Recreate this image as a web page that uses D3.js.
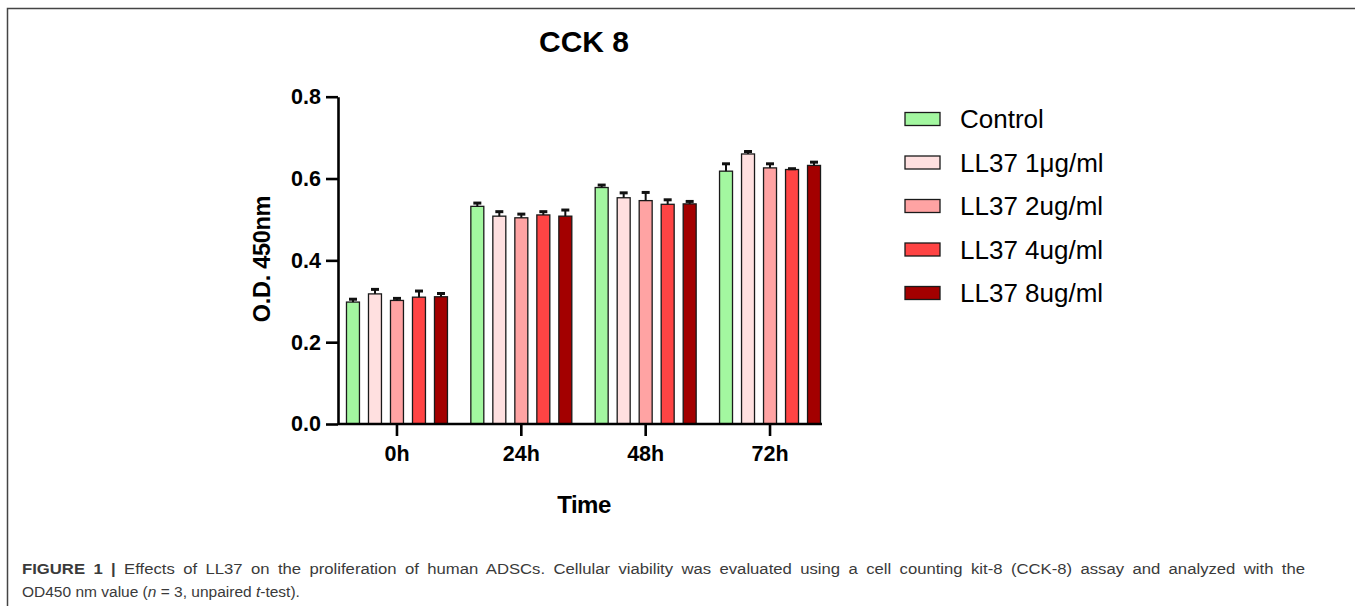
<!DOCTYPE html>
<html>
<head>
<meta charset="utf-8">
<script src="https://cdn.jsdelivr.net/npm/d3@7"></script>
<style>
  body { margin: 0; background: #fff; }
  svg { display: block; font-family: "Liberation Sans", Arial, sans-serif; }
</style>
</head>
<body>
<svg width="1355" height="606"></svg>
<script>
const groups = ["0h", "24h", "48h", "72h"];
const series = ["Control", "LL37 1μg/ml", "LL37 2ug/ml", "LL37 4ug/ml", "LL37 8ug/ml"];
const colors = ["#a3f7a0", "#ffe0e0", "#ffa3a3", "#ff4444", "#a30000"];
// mean values, one array per group (same order as series)
const means0 = [0.298, 0.318, 0.302, 0.310, 0.311];
const means24 = [0.532, 0.508, 0.504, 0.511, 0.508];
const means48 = [0.578, 0.553, 0.546, 0.537, 0.538];
const means72 = [0.618, 0.660, 0.626, 0.622, 0.632];
// error (SD) read from the caps
const err0 = [0.007, 0.011, 0.005, 0.015, 0.008];
const err24 = [0.008, 0.011, 0.009, 0.008, 0.015];
const err48 = [0.006, 0.012, 0.020, 0.011, 0.006];
const err72 = [0.018, 0.006, 0.010, 0.002, 0.008];
const yTicks = [0.0, 0.2, 0.4, 0.6, 0.8];

const means = [means0, means24, means48, means72];
const errs = [err0, err24, err48, err72];

const svg = d3.select("svg");

// figure frame (top and left rule)
svg.append("path")
  .attr("d", "M7.5,1000V8.5H1355")
  .attr("fill", "none")
  .attr("stroke", "#444")
  .attr("stroke-width", 1.5);

const x0 = d3.scaleBand()
  .domain(groups)
  .range([334.8, 832.2])
  .paddingInner(0);

const x1 = d3.scaleBand()
  .domain(series)
  .range([-55, 55])
  .paddingInner(0.41)
  .paddingOuter(0.205);

const y = d3.scaleLinear()
  .domain([0, 0.8])
  .range([424, 96.7]);

const color = d3.scaleOrdinal().domain(series).range(colors);

const rows = [];
groups.forEach(function(g, gi) {
  series.forEach(function(s, si) {
    rows.push({ group: g, name: s, value: means[gi][si], err: errs[gi][si] });
  });
});

const cx = function(d) { return x0(d.group) + x0.bandwidth() / 2; };

// bars
svg.append("g").selectAll("rect")
  .data(rows)
  .join("rect")
  .attr("x", function(d) { return cx(d) + x1(d.name); })
  .attr("y", function(d) { return y(d.value); })
  .attr("width", x1.bandwidth())
  .attr("height", function(d) { return y(0) - y(d.value); })
  .attr("fill", function(d) { return color(d.name); })
  .attr("stroke", "#1a1a1a")
  .attr("stroke-width", 1.3);

// error bars (upper half only)
const eb = svg.append("g").attr("stroke", "#111");
eb.selectAll("line.v")
  .data(rows)
  .join("line")
  .attr("class", "v")
  .attr("x1", function(d) { return cx(d) + x1(d.name) + x1.bandwidth() / 2; })
  .attr("x2", function(d) { return cx(d) + x1(d.name) + x1.bandwidth() / 2; })
  .attr("y1", function(d) { return y(d.value); })
  .attr("y2", function(d) { return y(d.value + d.err); })
  .attr("stroke-width", 2);
eb.selectAll("line.cap")
  .data(rows)
  .join("line")
  .attr("class", "cap")
  .attr("x1", function(d) { return cx(d) + x1(d.name) + x1.bandwidth() / 2 - 4; })
  .attr("x2", function(d) { return cx(d) + x1(d.name) + x1.bandwidth() / 2 + 4; })
  .attr("y1", function(d) { return y(d.value + d.err); })
  .attr("y2", function(d) { return y(d.value + d.err); })
  .attr("stroke-width", 3);

// y axis
const yAxis = svg.append("g")
  .attr("transform", "translate(338,0)")
  .call(d3.axisLeft(y).tickValues(yTicks).tickFormat(d3.format(".1f")).tickSize(12).tickSizeOuter(0).tickPadding(5));
yAxis.select(".domain").attr("stroke", "#000").attr("stroke-width", 2.6);
yAxis.selectAll(".tick line").attr("stroke", "#000").attr("stroke-width", 2.6);
yAxis.selectAll(".tick text")
  .attr("fill", "#000")
  .style("font-family", "'Liberation Sans', Arial, sans-serif")
  .style("font-size", "21.5px")
  .style("font-weight", "bold");

// x axis
const xAxis = svg.append("g")
  .attr("transform", "translate(0,424)")
  .call(d3.axisBottom(x0).tickSize(12).tickSizeOuter(0).tickPadding(10));
xAxis.select(".domain").attr("d", "M338,0H822").attr("stroke", "#000").attr("stroke-width", 2.6);
xAxis.selectAll(".tick line").attr("stroke", "#000").attr("stroke-width", 2.6);
xAxis.selectAll(".tick text")
  .attr("fill", "#000")
  .style("font-family", "'Liberation Sans', Arial, sans-serif")
  .style("font-size", "21.5px")
  .style("font-weight", "bold");

// titles
svg.append("text")
  .attr("x", 584).attr("y", 52)
  .attr("text-anchor", "middle")
  .style("font-size", "30px").style("font-weight", "bold")
  .text("CCK 8");

svg.append("text")
  .attr("x", 584).attr("y", 513)
  .attr("text-anchor", "middle")
  .style("font-size", "24px").style("font-weight", "bold")
  .style("letter-spacing", "-0.5px")
  .text("Time");

svg.append("text")
  .attr("transform", "translate(270,259) rotate(-90)")
  .attr("text-anchor", "middle")
  .style("font-size", "23.5px").style("font-weight", "bold")
  .style("letter-spacing", "-0.3px")
  .text("O.D. 450nm");

// legend
const legend = svg.append("g").selectAll("g")
  .data(series)
  .join("g")
  .attr("transform", function(d, i) { return "translate(905," + (119 + i * 43.5) + ")"; });
legend.append("rect")
  .attr("x", 0).attr("y", -6.5)
  .attr("width", 35).attr("height", 13)
  .attr("fill", function(d) { return color(d); })
  .attr("stroke", "#1a1a1a")
  .attr("stroke-width", 1.3);
legend.append("text")
  .attr("x", 55).attr("y", 9)
  .style("font-size", "26px")
  .text(function(d) { return d; });

// caption
const captionLine1 = "Effects of LL37 on the proliferation of human ADSCs. Cellular viability was evaluated using a cell counting kit-8 (CCK-8) assay and analyzed with the";
const cap1 = svg.append("text")
  .attr("x", 22).attr("y", 574)
  .attr("fill", "#3a3a3a")
  .style("font-size", "15.5px");
cap1.append("tspan").style("font-weight", "bold").text("FIGURE 1 | ");
cap1.append("tspan").text(captionLine1);
// justified first line: half the slack goes to word gaps, the rest stretches the glyphs
const spaces = ("FIGURE 1 | " + captionLine1).split(" ").length - 1;
const extra = (1305 - 22 - cap1.node().getComputedTextLength()) / spaces;
cap1.style("word-spacing", (extra / 2) + "px")
  .attr("textLength", 1283)
  .attr("lengthAdjust", "spacingAndGlyphs");

const cap2 = svg.append("text")
  .attr("x", 22).attr("y", 597)
  .attr("fill", "#3a3a3a")
  .style("font-size", "15.5px");
cap2.append("tspan").text("OD450 nm value (");
cap2.append("tspan").style("font-style", "italic").text("n");
cap2.append("tspan").text(" = 3, unpaired ");
cap2.append("tspan").style("font-style", "italic").text("t");
cap2.append("tspan").text("-test).");
</script>
</body>
</html>
